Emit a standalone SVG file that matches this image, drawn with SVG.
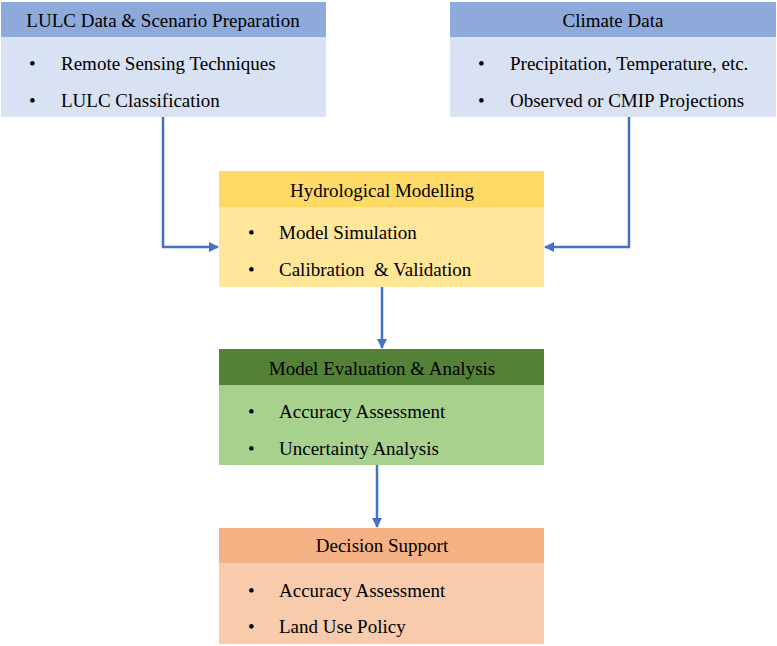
<svg xmlns="http://www.w3.org/2000/svg" width="777" height="646" viewBox="0 0 777 646">
<style>
text{font-family:'Liberation Serif',serif;font-size:19px;fill:#000}
.t{text-anchor:middle}
.c{fill:none;stroke:#4472C4;stroke-width:2.5}
</style>
<defs>
<marker id="ah" viewBox="0 0 10 10" refX="9" refY="5" markerWidth="4" markerHeight="4" orient="auto" markerUnits="strokeWidth">
<path d="M0,0 L10,5 L0,10 z" fill="#4472C4"/>
</marker>
</defs>
<rect width="777" height="646" fill="#fff"/>
<g font-family="Liberation Serif, serif">
<g id="lulc">
<rect x="1" y="2" width="325" height="35" fill="#8EAADB"/>
<rect x="1" y="37" width="325" height="80" fill="#D9E2F3"/>
<text class="t" x="163" y="27">LULC Data &amp; Scenario Preparation</text>
<text x="29" y="70">•</text><text x="61" y="70">Remote Sensing Techniques</text>
<text x="29" y="107">•</text><text x="61" y="107">LULC Classification</text>
</g>
<g id="climate">
<rect x="450" y="2" width="326" height="35" fill="#8EAADB"/>
<rect x="450" y="37" width="326" height="80" fill="#D9E2F3"/>
<text class="t" x="613" y="27">Climate Data</text>
<text x="478" y="70">•</text><text x="510" y="70">Precipitation, Temperature, etc.</text>
<text x="478" y="107">•</text><text x="510" y="107">Observed or CMIP Projections</text>
</g>
<g id="hydro">
<rect x="219" y="171" width="325" height="36" fill="#FFD966"/>
<rect x="219" y="207" width="325" height="80" fill="#FFE699"/>
<text class="t" x="382" y="197">Hydrological Modelling</text>
<text x="248" y="239">•</text><text x="279" y="239">Model Simulation</text>
<text x="248" y="276">•</text><text x="279" y="276" xml:space="preserve">Calibration  &amp; Validation</text>
</g>
<g id="eval">
<rect x="219" y="349" width="325" height="36" fill="#538135"/>
<rect x="219" y="385" width="325" height="80" fill="#A9D18E"/>
<text class="t" x="382" y="375">Model Evaluation &amp; Analysis</text>
<text x="248" y="418">•</text><text x="279" y="418">Accuracy Assessment</text>
<text x="248" y="455">•</text><text x="279" y="455">Uncertainty Analysis</text>
</g>
<g id="decision">
<rect x="219" y="528" width="325" height="35" fill="#F4B183"/>
<rect x="219" y="563" width="325" height="81" fill="#F8CBAD"/>
<text class="t" x="382" y="552">Decision Support</text>
<text x="248" y="597">•</text><text x="279" y="597">Accuracy Assessment</text>
<text x="248" y="633">•</text><text x="279" y="633">Land Use Policy</text>
</g>
</g>
<g id="connectors">
<path class="c" d="M163,117 V247 H218" marker-end="url(#ah)"/>
<path class="c" d="M629,117 V247 H545" marker-end="url(#ah)"/>
<path class="c" d="M382,287 V348" marker-end="url(#ah)"/>
<path class="c" d="M377,465 V527" marker-end="url(#ah)"/>
</g>
</svg>
